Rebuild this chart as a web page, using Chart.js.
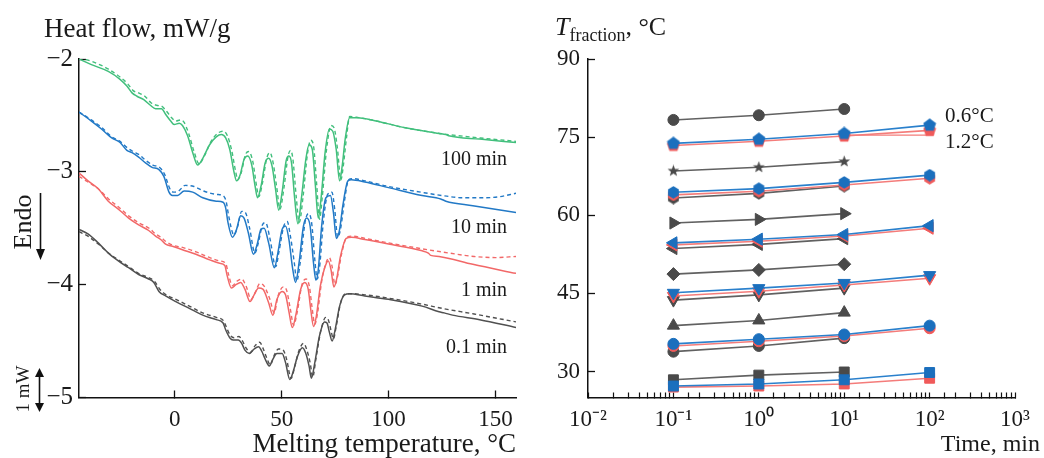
<!DOCTYPE html>
<html>
<head>
<meta charset="utf-8">
<script src="https://cdn.jsdelivr.net/npm/chart.js@4.4.1/dist/chart.umd.min.js"></script>
<style>
  html, body { margin: 0; padding: 0; background: #fff; }
  body {
    width: 1044px; height: 458px; position: relative; overflow: hidden;
    font-family: "Liberation Serif", "Times New Roman", serif; color: #1a1a1a;
  }
  canvas { position: absolute; top: 0; }
  #dscCanvas { left: 0; }
  #fracCanvas { left: 530px; }
  .lbl { position: absolute; white-space: nowrap; line-height: 1; transform: translateY(-50%); }
  .lbl.right { transform: translate(-100%, -50%); }
  .rot { position: absolute; white-space: nowrap; line-height: 1; transform: translate(-50%, -50%) rotate(-90deg); }
  svg { position: absolute; left: 0; top: 0; overflow: visible; }
</style>
</head>
<body>
<canvas id="dscCanvas" width="530" height="458"></canvas>
<canvas id="fracCanvas" width="514" height="458"></canvas>

<div class="lbl" style="left:44px; top:28px; font-size:27px;">Heat flow, mW/g</div>
<div class="lbl right" style="left:516px; top:443px; font-size:27px;">Melting temperature, °C</div>
<div class="lbl right" style="left:507px; top:158px; font-size:20px;">100 min</div>
<div class="lbl right" style="left:507px; top:226px; font-size:20px;">10 min</div>
<div class="lbl right" style="left:507px; top:289px; font-size:20px;">1 min</div>
<div class="lbl right" style="left:507px; top:346px; font-size:20px;">0.1 min</div>
<div class="rot" style="left:23px; top:222px; font-size:26px;">Endo</div>
<div class="rot" style="left:22px; top:389px; font-size:19px;">1 mW</div>
<svg width="60" height="458">
  <line x1="40.5" y1="193" x2="40.5" y2="252" stroke="#111" stroke-width="1.6"/>
  <polygon points="36,249 45,249 40.5,260" fill="#111"/>
  <line x1="39.5" y1="376" x2="39.5" y2="404" stroke="#111" stroke-width="1.6"/>
  <polygon points="35,377 44,377 39.5,368" fill="#111"/>
  <polygon points="35,403 44,403 39.5,412" fill="#111"/>
</svg>

<div class="lbl" style="left:555px; top:27px; font-size:26px;"><i>T</i><span style="font-size:18px; position:relative; top:6px;">fraction</span>, °C</div>
<div class="lbl right" style="left:1040px; top:443px; font-size:24px;">Time, min</div>
<div class="lbl" style="left:945px; top:115px; font-size:21px;">0.6°C</div>
<div class="lbl" style="left:945px; top:141px; font-size:21px;">1.2°C</div>

<script>
// DSC melting curves: [temperature °C, heat flow mW/g]
const green100Solid = [[-44.8,-2.00],[-39,-2.05],[-31.1,-2.11],[-25.6,-2.18],[-22.4,-2.24],[-20,-2.30],[-17.7,-2.33],[-14.5,-2.36],[-11.4,-2.41],[-9,-2.44],[-6.2,-2.44],[-4.3,-2.49],[-1.9,-2.55],[-0.3,-2.58],[2.1,-2.57],[3.6,-2.59],[6,-2.68],[8.4,-2.83],[10.7,-2.94],[13.1,-2.88],[16.3,-2.76],[19.4,-2.69],[21.8,-2.67],[23.8,-2.70],[25.7,-2.80],[27.8,-3.01],[28.9,-3.08],[30.5,-3.03],[32.4,-2.89],[34.1,-2.86],[36,-2.94],[37.6,-3.13],[38.7,-3.23],[40.3,-3.13],[42.3,-2.92],[43.9,-2.88],[45.5,-2.95],[47.1,-3.15],[48.6,-3.34],[50.2,-3.18],[52.1,-2.90],[53.4,-2.86],[54.6,-2.92],[56.1,-3.24],[57.6,-3.46],[59.2,-3.24],[61.3,-2.89],[62.8,-2.76],[64.3,-2.80],[65.8,-3.13],[67.1,-3.41],[68.4,-3.24],[70.3,-2.83],[72.3,-2.62],[73.9,-2.64],[75.5,-2.80],[77.1,-3.08],[78.3,-2.95],[79.7,-2.71],[81.8,-2.52],[85.7,-2.52],[92.1,-2.54],[107.8,-2.61],[123.6,-2.66],[126.8,-2.67],[128.1,-2.68],[142.6,-2.71],[159.6,-2.74]];
const green100Dashed = [[-44.8,-1.99],[-39,-2.02],[-31,-2.09],[-25.6,-2.16],[-22,-2.22],[-19.5,-2.28],[-17,-2.30],[-14,-2.33],[-11,-2.39],[-8.5,-2.41],[-6,-2.42],[-4,-2.46],[-1.5,-2.52],[0.5,-2.55],[2.6,-2.54],[4.3,-2.56],[6.5,-2.66],[9,-2.82],[11.4,-2.93],[13.8,-2.86],[17,-2.73],[20,-2.66],[22.6,-2.64],[24.6,-2.68],[26.5,-2.80],[28.5,-3.00],[29.5,-3.07],[31.2,-3.00],[33,-2.85],[34.6,-2.82],[36.5,-2.91],[38.2,-3.12],[39.3,-3.22],[41,-3.10],[43,-2.88],[44.5,-2.83],[46,-2.92],[47.7,-3.14],[49.2,-3.33],[51,-3.15],[53,-2.86],[54.2,-2.81],[55.2,-2.88],[56.8,-3.22],[58.2,-3.45],[60,-3.22],[62,-2.85],[63.6,-2.72],[64.9,-2.77],[66.4,-3.12],[67.7,-3.42],[69,-3.22],[71,-2.80],[73.1,-2.59],[74.5,-2.61],[76,-2.78],[77.7,-3.07],[78.8,-2.95],[80.3,-2.70],[81.8,-2.51],[86,-2.52],[92,-2.54],[108,-2.61],[124,-2.66],[128,-2.67],[143,-2.70],[159.6,-2.73]];

const blue10Solid = [[-44.8,-2.47],[-39,-2.55],[-34.3,-2.62],[-29.5,-2.70],[-25.6,-2.74],[-22.4,-2.81],[-20,-2.83],[-16.9,-2.87],[-13.7,-2.92],[-10.6,-2.96],[-7.4,-2.98],[-5.1,-3.04],[-2.7,-3.18],[-1.1,-3.21],[1.3,-3.21],[4.4,-3.17],[8.4,-3.18],[13.1,-3.23],[19.4,-3.26],[22.6,-3.27],[23.8,-3.32],[24.9,-3.45],[27,-3.58],[28.9,-3.51],[30.8,-3.39],[32.4,-3.41],[34.4,-3.54],[36.8,-3.73],[38.7,-3.63],[40.3,-3.51],[41.8,-3.50],[43.9,-3.63],[46.6,-3.85],[48.2,-3.72],[50.2,-3.51],[51.8,-3.48],[53.4,-3.60],[55,-3.84],[56.5,-3.98],[58.1,-3.81],[60.2,-3.48],[61.7,-3.41],[63.3,-3.48],[64.9,-3.81],[66,-3.96],[67.1,-3.87],[68.7,-3.48],[70.7,-3.23],[72.8,-3.21],[74.2,-3.36],[75.6,-3.59],[77.1,-3.51],[78.6,-3.30],[81,-3.08],[82.6,-3.07],[88.9,-3.09],[100,-3.14],[115.7,-3.21],[124.4,-3.24],[126.8,-3.26],[139.4,-3.30],[159.6,-3.36]];
const blue10Dashed = [[-44.8,-2.47],[-39,-2.54],[-34,-2.61],[-29.5,-2.69],[-25.6,-2.73],[-22,-2.79],[-19.5,-2.82],[-16.5,-2.85],[-13.5,-2.90],[-10.3,-2.94],[-7.2,-2.96],[-4.8,-3.02],[-2.3,-3.15],[-0.6,-3.18],[1.8,-3.17],[4.8,-3.12],[9,-3.13],[13.5,-3.17],[19.5,-3.20],[22.5,-3.21],[24,-3.26],[25.3,-3.40],[27.7,-3.56],[29.3,-3.49],[31.3,-3.35],[33,-3.36],[35,-3.50],[37.5,-3.72],[39.2,-3.62],[41,-3.47],[42.5,-3.45],[44.5,-3.59],[47.2,-3.84],[48.8,-3.70],[51,-3.48],[52.6,-3.44],[54,-3.56],[56,-3.82],[57,-3.97],[58.7,-3.80],[61,-3.44],[62.5,-3.37],[64,-3.45],[65.6,-3.80],[66.6,-3.95],[67.7,-3.85],[69.5,-3.44],[71.5,-3.20],[73.5,-3.18],[74.8,-3.33],[76.2,-3.58],[77.6,-3.50],[79.2,-3.28],[81.3,-3.07],[83,-3.06],[89,-3.08],[100,-3.13],[115,-3.18],[125,-3.21],[135,-3.23],[145,-3.23],[152,-3.22],[159.6,-3.19]];

const red1Solid = [[-44.8,-3.01],[-40.6,-3.08],[-35.8,-3.15],[-31.1,-3.26],[-26.4,-3.33],[-21.6,-3.41],[-16.9,-3.47],[-12.2,-3.52],[-9,-3.57],[-6.6,-3.60],[-4.3,-3.64],[-1.1,-3.66],[3.6,-3.69],[9.9,-3.73],[16.3,-3.78],[21,-3.81],[23.4,-3.83],[24.5,-3.92],[26.5,-4.03],[28.6,-4.00],[30.8,-3.98],[32.8,-4.04],[35.2,-4.15],[37.1,-4.09],[39.2,-4.03],[41.2,-4.04],[43.9,-4.16],[45.9,-4.27],[47.8,-4.13],[50.2,-4.06],[51.8,-4.09],[53.4,-4.24],[55,-4.38],[56.5,-4.28],[58.9,-4.04],[60.8,-3.98],[62.4,-4.04],[63.6,-4.22],[64.9,-4.37],[66.2,-4.28],[68.1,-4.01],[70.3,-3.84],[71.8,-3.79],[73.1,-3.87],[74.4,-4.02],[75.6,-3.96],[77.5,-3.75],[80.2,-3.59],[82.6,-3.58],[88.9,-3.60],[100,-3.64],[115.7,-3.70],[118.6,-3.72],[119.7,-3.74],[123.6,-3.75],[139.4,-3.82],[159.6,-3.90]];
const red1Dashed = [[-44.8,-3.04],[-40.6,-3.09],[-35.8,-3.15],[-31,-3.24],[-26.4,-3.31],[-21.6,-3.39],[-17,-3.45],[-12,-3.50],[-9,-3.55],[-6.5,-3.58],[-4,-3.62],[-1,-3.65],[3.6,-3.67],[10,-3.71],[16.3,-3.76],[21,-3.79],[23.8,-3.81],[25,-3.90],[27,-4.01],[29,-3.97],[31.3,-3.95],[33.3,-4.01],[35.7,-4.13],[37.6,-4.07],[39.8,-3.99],[41.7,-4.01],[44.5,-4.13],[46.5,-4.25],[48.3,-4.10],[50.8,-4.02],[52.3,-4.05],[54,-4.21],[55.6,-4.36],[57.2,-4.25],[59.5,-4.00],[61.4,-3.95],[62.9,-4.01],[64.2,-4.20],[65.5,-4.35],[66.8,-4.25],[68.7,-3.97],[70.9,-3.80],[72.3,-3.76],[73.6,-3.84],[74.9,-4.00],[76.1,-3.93],[78,-3.73],[80.5,-3.58],[83,-3.57],[89,-3.59],[100,-3.63],[115,-3.68],[125,-3.71],[140,-3.75],[150,-3.76],[159.6,-3.75]];

const gray01Solid = [[-44.8,-3.51],[-40.6,-3.55],[-35.8,-3.63],[-31.1,-3.72],[-26.4,-3.79],[-21.6,-3.85],[-16.9,-3.91],[-12.2,-3.95],[-9.8,-3.98],[-7.4,-4.06],[-4.3,-4.10],[0.5,-4.15],[6.8,-4.21],[13.1,-4.27],[19.4,-4.31],[22.6,-4.34],[23.8,-4.40],[25.7,-4.47],[27.3,-4.49],[29.7,-4.49],[31.3,-4.52],[32.8,-4.58],[34.9,-4.61],[37.1,-4.57],[39.2,-4.55],[40.7,-4.59],[42.3,-4.66],[44.2,-4.72],[45.9,-4.66],[47.8,-4.61],[50.2,-4.61],[51.8,-4.69],[53.8,-4.84],[55.7,-4.75],[57.3,-4.64],[59.7,-4.56],[61.3,-4.61],[62.8,-4.72],[63.9,-4.83],[65.5,-4.69],[67.6,-4.46],[70,-4.33],[71.2,-4.34],[72.3,-4.42],[73.6,-4.50],[75,-4.40],[77.1,-4.19],[79.4,-4.09],[81.8,-4.08],[88.9,-4.10],[100,-4.13],[115.7,-4.19],[123.6,-4.24],[126,-4.25],[129.9,-4.27],[142.6,-4.31],[159.6,-4.38]];
const gray01Dashed = [[-44.8,-3.53],[-40.6,-3.57],[-35.8,-3.64],[-31,-3.72],[-26.4,-3.78],[-21.6,-3.84],[-17,-3.90],[-12,-3.94],[-9.5,-3.97],[-7,-4.04],[-4,-4.09],[0.5,-4.13],[6.8,-4.19],[13,-4.25],[19.4,-4.29],[22.8,-4.32],[24.2,-4.38],[26,-4.45],[27.7,-4.47],[30,-4.46],[31.7,-4.50],[33.3,-4.56],[35.4,-4.60],[37.6,-4.54],[39.7,-4.51],[41.2,-4.56],[42.8,-4.64],[44.7,-4.71],[46.4,-4.63],[48.5,-4.57],[50.7,-4.58],[52.3,-4.66],[54.4,-4.83],[56.2,-4.72],[58,-4.59],[60.3,-4.52],[61.8,-4.58],[63.4,-4.70],[64.5,-4.82],[66,-4.66],[68.3,-4.41],[70.6,-4.29],[71.8,-4.31],[73,-4.40],[74.2,-4.48],[75.5,-4.37],[77.6,-4.16],[80,-4.08],[82.5,-4.08],[89,-4.09],[100,-4.12],[115,-4.17],[125,-4.21],[140,-4.26],[159.6,-4.33]];

const tempTicks = [0, 50, 100, 150];
const flowTicks = [-5, -4, -3, -2];

// Fraction melting temperatures (°C) vs annealing time (min)
const timesMin = [0.1, 1, 10, 100];
const grayBall = [78.3, 79.2, 80.4];
const bluePenta = [73.8, 74.6, 75.7, 77.3];
const redPenta = [73.4, 74.2, 75.2, 76.3];
const grayStar = [68.5, 69.2, 70.3];
const blueHexa = [64.4, 65.1, 66.3, 67.7];
const redHexa = [63.9, 64.6, 65.8, 67.1];
const grayHexa = [63.3, 64.2, 65.6];
const grayRight = [58.5, 59.2, 60.3];
const blueLeft = [54.7, 55.4, 56.3, 58.0];
const redLeft = [54.3, 55.0, 56.0, 57.5];
const grayLeft = [53.6, 54.4, 55.5];
const grayDiamond = [48.7, 49.5, 50.6];
const blueDown = [45.1, 46.0, 47.0, 48.5];
const redDown = [44.5, 45.4, 46.6, 47.9];
const grayDown = [43.7, 44.7, 46.0];
const grayUp = [38.8, 39.8, 41.3];
const blueCircle = [35.3, 36.2, 37.1, 38.8];
const redCircle = [34.9, 35.8, 36.8, 38.3];
const grayCircle = [33.8, 34.9, 36.4];
const graySquare = [28.4, 29.3, 29.9];
const blueSquare = [27.2, 27.6, 28.4, 29.8];
const redSquare = [27.0, 27.2, 27.6, 28.7];
// short red bracket next to the 1.2°C note
const bracketTimes = [10, 110, 110];
const bracketTemps = [75.4, 75.4, 76.8];

const fracTicks = [30, 45, 60, 75, 90];
const decadeLabels = { "-2": "10⁻²", "-1": "10⁻¹", "0": "10⁰", "1": "10¹", "2": "10²", "3": "10³" };

const GREEN = "#41bf7c";
const BLUE = "#2279c6";
const RED = "#f26868";
const GRAY = "#505050";

const serif = "'Liberation Serif', 'Times New Roman', serif";
const tickFont = { family: serif, size: 23 };
const flowTickFont = { family: serif, size: 25 };

function toPoints(pairs) {
  return pairs.map(([x, y]) => ({ x, y }));
}

function curve(pairs, color, dashed) {
  return {
    data: toPoints(pairs),
    borderColor: color,
    borderWidth: dashed ? 1.4 : 1.5,
    borderDash: dashed ? [4, 3] : [],
    pointRadius: 0,
    fill: false,
    cubicInterpolationMode: "monotone",
  };
}

function axisBase() {
  return {
    grid: { drawOnChartArea: false, drawTicks: true, tickLength: -7, tickColor: "#111", tickWidth: 1.3 },
    border: { display: true, color: "#111", width: 1.5 },
  };
}

const dscDatasets = [
  curve(green100Solid, GREEN, false),
  curve(green100Dashed, GREEN, true),
  curve(blue10Solid, BLUE, false),
  curve(blue10Dashed, BLUE, true),
  curve(red1Solid, RED, false),
  curve(red1Dashed, RED, true),
  curve(gray01Solid, GRAY, false),
  curve(gray01Dashed, GRAY, true),
];

new Chart(document.getElementById("dscCanvas"), {
  type: "line",
  data: { datasets: dscDatasets },
  options: {
    responsive: false,
    animation: false,
    layout: { padding: { top: 59, right: 14, left: 0, bottom: 0 } },
    plugins: { legend: { display: false }, tooltip: { enabled: false } },
    scales: {
      x: {
        type: "linear",
        min: -44.8,
        max: 159.6,
        ...axisBase(),
        afterBuildTicks: (scale) => { scale.ticks = tempTicks.map((v) => ({ value: v })); },
        afterFit: (scale) => { scale.height = 60.5; },
        ticks: { padding: 16, color: "#1a1a1a", font: tickFont, maxRotation: 0, autoSkip: false },
      },
      y: {
        type: "linear",
        min: -5,
        max: -2,
        ...axisBase(),
        afterBuildTicks: (scale) => { scale.ticks = flowTicks.map((v) => ({ value: v })); },
        afterFit: (scale) => { scale.width = 79; },
        ticks: {
          padding: 13,
          color: "#1a1a1a",
          font: flowTickFont,
          callback: (v) => "\u2212" + Math.abs(v),
        },
      },
    },
  },
});

// filled polygon / star markers for the point styles Chart.js lacks
const markerCache = {};
function polyMarker(kind, color, size) {
  const key = kind + color + size;
  if (markerCache[key]) return markerCache[key];
  const c = document.createElement("canvas");
  c.width = c.height = size;
  const g = c.getContext("2d");
  const r = size / 2 - 0.3;
  const n = kind === "pentagon" ? 5 : kind === "hexagon" ? 6 : 10;
  g.translate(size / 2, size / 2);
  g.beginPath();
  for (let i = 0; i < n; i++) {
    const a = -Math.PI / 2 + (i * 2 * Math.PI) / n;
    const rr = kind === "star" && i % 2 ? r * 0.42 : r;
    g.lineTo(rr * Math.cos(a), rr * Math.sin(a));
  }
  g.closePath();
  g.fillStyle = color;
  g.fill();
  markerCache[key] = c;
  return c;
}

const tones = {
  gray: { line: "#616161", fill: "#4a4a4a" },
  blue: { line: "#2a80cc", fill: "#1b6fbd" },
  red: { line: "#f47c7a", fill: "#f05a5a" },
};

function markerSeries(values, tone, kind) {
  const t = tones[tone];
  let style = kind, rotation = 0, radius = 6;
  if (kind === "up") { style = "triangle"; radius = 7; }
  if (kind === "down") { style = "triangle"; rotation = 180; radius = 7; }
  if (kind === "left") { style = "triangle"; rotation = 270; radius = 7; }
  if (kind === "right") { style = "triangle"; rotation = 90; radius = 7; }
  if (kind === "diamond") { style = "rectRot"; radius = 6.5; }
  if (kind === "square") { style = "rect"; radius = 7; }
  if (kind === "circle") { style = "circle"; radius = 5.5; }
  if (kind === "pentagon") style = polyMarker("pentagon", t.fill, 14);
  if (kind === "hexagon") style = polyMarker("hexagon", t.fill, 13);
  if (kind === "star") style = polyMarker("star", t.fill, 13);
  return {
    data: values.map((v, i) => ({ x: timesMin[i], y: v })),
    borderColor: t.line,
    borderWidth: 1.6,
    pointStyle: style,
    pointRotation: rotation,
    pointRadius: radius,
    pointBackgroundColor: t.fill,
    pointBorderColor: t.fill,
    pointBorderWidth: 1,
    fill: false,
    tension: 0,
  };
}

// first dataset ends up drawn on top, so blue goes before red and gray
const fracDatasets = [
  markerSeries(bluePenta, "blue", "pentagon"),
  markerSeries(blueHexa, "blue", "hexagon"),
  markerSeries(blueLeft, "blue", "left"),
  markerSeries(blueDown, "blue", "down"),
  markerSeries(blueCircle, "blue", "circle"),
  markerSeries(blueSquare, "blue", "square"),
  markerSeries(redPenta, "red", "pentagon"),
  markerSeries(redHexa, "red", "hexagon"),
  markerSeries(redLeft, "red", "left"),
  markerSeries(redDown, "red", "down"),
  markerSeries(redCircle, "red", "circle"),
  markerSeries(redSquare, "red", "square"),
  {
    data: bracketTimes.map((x, i) => ({ x, y: bracketTemps[i] })),
    borderColor: "#f47c7a",
    borderWidth: 1.2,
    pointRadius: 0,
    fill: false,
  },
  markerSeries(grayBall, "gray", "circle"),
  markerSeries(grayStar, "gray", "star"),
  markerSeries(grayHexa, "gray", "hexagon"),
  markerSeries(grayRight, "gray", "right"),
  markerSeries(grayLeft, "gray", "left"),
  markerSeries(grayDiamond, "gray", "diamond"),
  markerSeries(grayDown, "gray", "down"),
  markerSeries(grayUp, "gray", "up"),
  markerSeries(grayCircle, "gray", "circle"),
  markerSeries(graySquare, "gray", "square"),
];

new Chart(document.getElementById("fracCanvas"), {
  type: "line",
  data: { datasets: fracDatasets },
  options: {
    responsive: false,
    animation: false,
    layout: { padding: { top: 59, right: 19, left: 0, bottom: 0 } },
    plugins: { legend: { display: false }, tooltip: { enabled: false } },
    scales: {
      x: {
        type: "logarithmic",
        min: 0.01,
        max: 1000,
        ...axisBase(),
        grid: { drawOnChartArea: false, drawTicks: true, tickLength: -5, tickColor: "#111", tickWidth: 1.2 },
        afterFit: (scale) => { scale.height = 60.5; },
        ticks: {
          padding: 14,
          color: "#1a1a1a",
          font: tickFont,
          maxRotation: 0,
          autoSkip: false,
          callback: (v) => {
            const e = Math.log10(v);
            const k = Math.round(e);
            return Math.abs(e - k) < 1e-6 && decadeLabels[k] ? decadeLabels[k] : "";
          },
        },
      },
      y: {
        type: "linear",
        min: 25,
        max: 90,
        ...axisBase(),
        afterBuildTicks: (scale) => { scale.ticks = fracTicks.map((v) => ({ value: v })); },
        afterFit: (scale) => { scale.width = 58; },
        ticks: { padding: 15, color: "#1a1a1a", font: tickFont },
      },
    },
  },
});
</script>
</body>
</html>
